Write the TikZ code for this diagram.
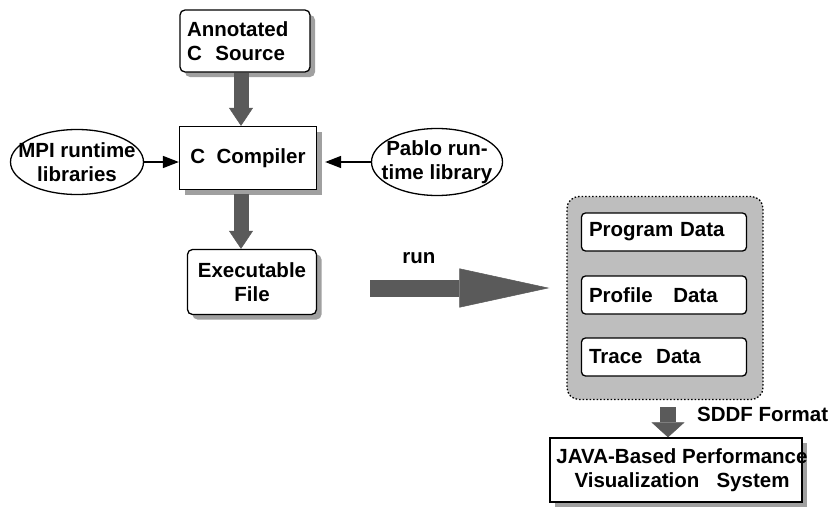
\documentclass[tikz,border=0pt]{standalone}
\usepackage{fontspec}
\setmainfont{Liberation Sans}
\usetikzlibrary{arrows.meta,positioning,shapes.geometric,shadows}
\definecolor{cshade}{HTML}{A0A0A0}
\definecolor{cfat}{HTML}{5A5A5A}
\definecolor{cpool}{HTML}{BEBEBE}
\tikzset{
  pbox/.style={draw, line width=1.3pt, align=center, inner sep=0pt,
               font=\bfseries\fontsize{20.5}{24}\selectfont, fill=white},
  pshad/.style={pbox, drop shadow={shadow xshift=5pt, shadow yshift=-5pt, fill=cshade, opacity=1}},
  plib/.style={ellipse, draw, line width=1.3pt, inner sep=0pt},
  ptxt/.style={font=\bfseries\fontsize{20.5}{24}\selectfont, align=center, inner sep=0pt},
  pdata/.style={pbox, rounded corners=4pt, text width=150pt, inner xsep=7.5pt,
                align=left, minimum height=38pt},
  pool/.style={draw, fill=cpool, line width=1.3pt, rounded corners=12pt,
               dash pattern=on 1.5pt off 2pt, minimum width=196pt, minimum height=203pt},
  fat/.style={line width=15pt, draw=cfat, -{Triangle[length=18pt,width=24pt,line width=0.5pt]}},
  runfat/.style={line width=17pt, draw=cfat, -{Triangle[length=90pt,width=39pt,line width=0.5pt]}},
  sddf/.style={line width=16pt, draw=cfat, -{Triangle[length=15pt,width=33pt,line width=0.5pt]}},
  thinflow/.style={line width=1.5pt, -{Triangle[length=16pt,width=12pt]}},
}
\begin{document}
\begin{tikzpicture}[x=1pt, y=1pt]
  \useasboundingbox[fill=white] (0,0) rectangle (832,-506);
  % compile chain
  \node[pshad, rounded corners=5pt, text width=116pt, inner xsep=7pt, align=left,
        minimum height=62pt] (src) at (245,-41) {Annotated\\C\ \ Source};
  \node[pshad, minimum width=137pt, minimum height=63pt] (cc) at (248,-158) {C\ \ Compiler};
  \node[pshad, rounded corners=5pt, minimum width=129pt, minimum height=65pt] (exe) at (252,-282) {Executable\\File};
  \node[plib, minimum width=133pt, minimum height=65pt,
        label={[ptxt]center:MPI runtime\\libraries}] (mpi) at (77,-162) {};
  \node[plib, minimum width=131pt, minimum height=67pt,
        label={[ptxt]center:Pablo run-\\time library}] (pablo) at (437,-162) {};
  \coordinate (ax) at (241,0);
  \draw[fat] (src.south -| ax) -- (cc.north -| ax);
  \draw[fat] ([yshift=-4pt]cc.south -| ax) -- (exe.north -| ax);
  \draw[thinflow] (mpi.east) -- (mpi.east -| cc.west);
  \draw[thinflow] (pablo.west) -- ([xshift=8pt]cc.east |- pablo.west);
  % trace output
  \node[pool] (pool) at (665,-298) {};
  \node[pdata] (prog) at (664,-232) {Program Data};
  \node[pdata] (prof) at (664,-295) {Profile\ \ \ Data};
  \node[pdata] (trace) at (664,-357) {Trace\ \ Data};
  \coordinate (runA) at (370,-288);
  \coordinate (runB) at ([xshift=-17pt]pool.west |- runA);
  \draw[runfat] (runA) -- (runB);
  \node[ptxt] (run) at (419,-258) {run};
  % visualization
  \node[pshad, minimum width=252pt, minimum height=64pt,
        label={[ptxt, xshift=6pt]center:JAVA-Based Performance\\Visualization\ \ \ System}] (java) at (676,-470) {};
  \coordinate (sx) at (668,0);
  \draw[sddf] ([yshift=-7pt]pool.south -| sx) -- (java.north -| sx);
  \node[ptxt, anchor=west] (fmt) at (697,-414) {SDDF Format};
\end{tikzpicture}
\end{document}
